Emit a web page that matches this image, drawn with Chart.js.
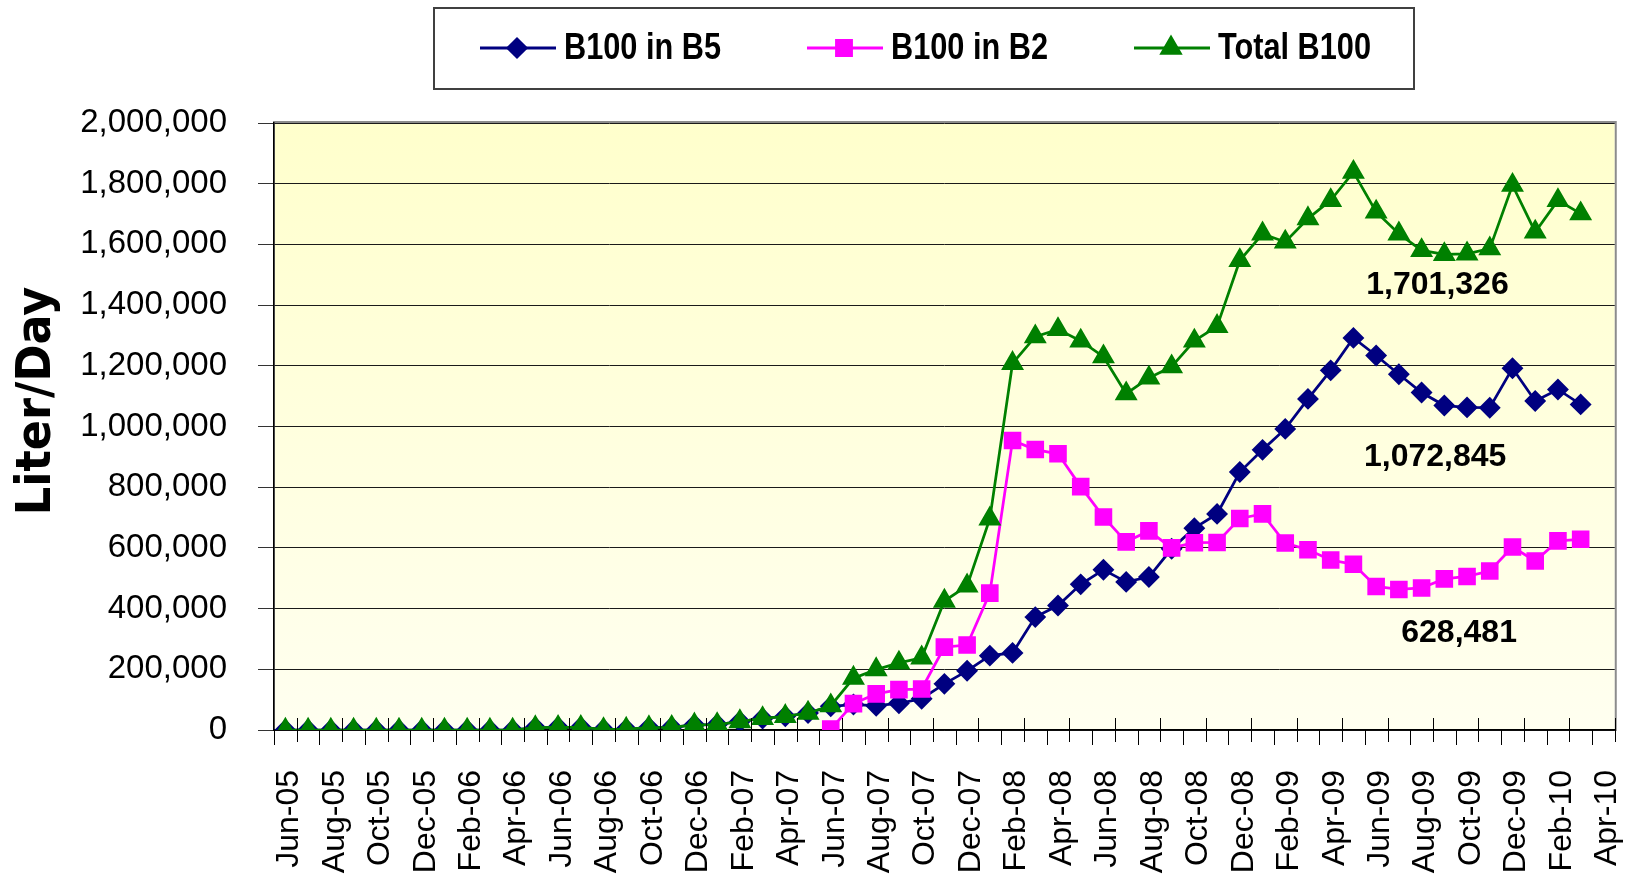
<!DOCTYPE html>
<html>
<head>
<meta charset="utf-8">
<title>B100 Liter/Day</title>
<script src="https://cdn.jsdelivr.net/npm/chart.js@4.4.1/dist/chart.umd.min.js"></script>
<style>
  html, body { margin: 0; padding: 0; background: #fff; }
  #wrap { position: relative; width: 1628px; height: 874px; }
</style>
</head>
<body>
<div id="wrap"><canvas id="b100Chart" width="1628" height="874"></canvas></div>
<script>
// Monthly categories, Jun-05 .. Apr-10
const months = [
  'Jun-05', 'Jul-05', 'Aug-05', 'Sep-05', 'Oct-05', 'Nov-05', 'Dec-05',
  'Jan-06', 'Feb-06', 'Mar-06', 'Apr-06', 'May-06', 'Jun-06', 'Jul-06', 'Aug-06', 'Sep-06', 'Oct-06', 'Nov-06', 'Dec-06',
  'Jan-07', 'Feb-07', 'Mar-07', 'Apr-07', 'May-07', 'Jun-07', 'Jul-07', 'Aug-07', 'Sep-07', 'Oct-07', 'Nov-07', 'Dec-07',
  'Jan-08', 'Feb-08', 'Mar-08', 'Apr-08', 'May-08', 'Jun-08', 'Jul-08', 'Aug-08', 'Sep-08', 'Oct-08', 'Nov-08', 'Dec-08',
  'Jan-09', 'Feb-09', 'Mar-09', 'Apr-09', 'May-09', 'Jun-09', 'Jul-09', 'Aug-09', 'Sep-09', 'Oct-09', 'Nov-09', 'Dec-09',
  'Jan-10', 'Feb-10', 'Mar-10', 'Apr-10'
];

// Liter/Day values
const b100InB5 = [
  0, 0, 0, 0, 0, 0, 0, 0, 0, 0, 0,
  8000, 9000, 9000, 2000, 3000, 8000, 9000, 17000, 18000, 28000, 38000, 45000, 56000,
  78000, 84000, 80000, 88000, 103000, 152000, 195000, 245000, 254000, 372000,
  410000, 480000, 528000, 488000, 504000, 597000, 665000, 712000, 850000, 923000,
  992000, 1091000, 1185000, 1292000, 1234000, 1172000, 1112000, 1069000, 1063000, 1062000,
  1192000, 1084000, 1122000, 1072845
];

const b100InB2 = [
  null, null, null, null, null, null, null, null, null, null, null, null,
  null, null, null, null, null, null, null, null, null, null, null, null,
  3000, 87000, 119000, 133000, 135000, 273000, 280000, 451000, 954000, 924000,
  910000, 802000, 702000, 620000, 656000, 600000, 617000, 618000, 697000, 712000,
  616000, 594000, 560000, 546000, 473000, 463000, 468000, 498000, 506000, 524000,
  603000, 557000, 623000, 628481
];

const totalB100 = [
  0, 0, 0, 0, 0, 0, 0, 0, 0, 0, 0,
  8000, 9000, 9000, 2000, 3000, 8000, 9000, 17000, 18000, 28000, 38000, 45000, 56000,
  80000, 171000, 199000, 221000, 238000, 425000, 475000, 696000, 1208000, 1296000,
  1320000, 1282000, 1230000, 1108000, 1160000, 1197000, 1282000, 1330000, 1547000, 1635000,
  1608000, 1685000, 1745000, 1838000, 1707000, 1635000, 1580000, 1567000, 1569000, 1586000,
  1795000, 1641000, 1745000, 1701326
];

const yTicks = { min: 0, max: 2000000, step: 200000 };

// where the three "latest value" callouts sit (category index, value)
const calloutSpots = [
  { series: 2, at: 50.7, value: 1465000 },
  { series: 0, at: 50.6, value: 899000 },
  { series: 1, at: 51.65, value: 319000 }
];

const fmt = v => v.toLocaleString('en-US');

// background, month tick marks, y title, legend and callouts
const decor = {
  id: 'decor',
  beforeDraw(chart) {
    const { ctx, chartArea: a } = chart;
    ctx.save();
    const g = ctx.createLinearGradient(0, a.top, 0, a.bottom);
    g.addColorStop(0, '#ffffcc');
    g.addColorStop(1, '#fffff0');
    ctx.fillStyle = g;
    ctx.fillRect(a.left, a.top, a.right - a.left, a.bottom - a.top);
    ctx.strokeStyle = '#8c8c8c';
    ctx.lineWidth = 2;
    ctx.strokeRect(a.left, a.top - 1, a.right - a.left + 1, a.bottom - a.top + 1);
    ctx.restore();
  },
  afterDraw(chart) {
    const { ctx, chartArea: a } = chart;
    const sets = chart.data.datasets;
    const xs = chart.scales.x, ys = chart.scales.y;

    // month boundary ticks: every other one crosses the axis
    ctx.save();
    ctx.strokeStyle = '#000';
    ctx.lineWidth = 1;
    for (let k = 0; k <= months.length; k++) {
      const px = Math.round(xs.getPixelForValue(k - 0.5)) + 0.5;
      ctx.beginPath();
      if (k % 2 === 1) {
        ctx.moveTo(px, a.bottom - 12);
        ctx.lineTo(px, a.bottom + 12);
      } else {
        ctx.moveTo(px, a.bottom);
        ctx.lineTo(px, a.bottom + 15);
      }
      ctx.stroke();
    }
    ctx.restore();

    // axis title
    ctx.save();
    ctx.translate(38, 401);
    ctx.rotate(-Math.PI / 2);
    ctx.scale(0.93, 1);
    ctx.fillStyle = '#000';
    ctx.font = 'bold 48px "DejaVu Sans"';
    ctx.textAlign = 'center';
    ctx.textBaseline = 'middle';
    ctx.fillText('Liter/Day', 0, 0);
    ctx.restore();

    // legend box
    ctx.save();
    ctx.fillStyle = '#fff';
    ctx.fillRect(434, 8, 980, 81);
    ctx.strokeStyle = '#404040';
    ctx.lineWidth = 2;
    ctx.strokeRect(434, 8, 980, 81);
    const starts = [480, 807, 1134];
    sets.forEach((ds, i) => {
      const x = starts[i], y = 48;
      ctx.strokeStyle = ds.borderColor;
      ctx.lineWidth = 3;
      ctx.beginPath();
      ctx.moveTo(x, y);
      ctx.lineTo(x + 76, y);
      ctx.stroke();
      ctx.fillStyle = ds.pointBackgroundColor;
      ctx.strokeStyle = ds.pointBorderColor;
      Chart.helpers.drawPoint(ctx, {
        pointStyle: ds.pointStyle, radius: ds.pointRadius, borderWidth: 1, rotation: 0
      }, x + 37, y);
      ctx.save();
      ctx.translate(x + 84, y + 1);
      ctx.scale(0.83, 1);
      ctx.fillStyle = '#000';
      ctx.font = 'bold 37px "Liberation Sans"';
      ctx.textBaseline = 'middle';
      ctx.fillText(ds.label, 0, 0);
      ctx.restore();
    });
    ctx.restore();

    // latest-value callouts
    ctx.save();
    ctx.fillStyle = '#000';
    ctx.font = 'bold 32px "Liberation Sans"';
    ctx.textAlign = 'center';
    ctx.textBaseline = 'middle';
    calloutSpots.forEach(c => {
      const d = sets[c.series].data;
      ctx.fillText(fmt(d[d.length - 1]), xs.getPixelForValue(c.at), ys.getPixelForValue(c.value));
    });
    ctx.restore();
  }
};

const ctx = document.getElementById('b100Chart').getContext('2d');

new Chart(ctx, {
  type: 'line',
  data: {
    labels: months,
    datasets: [
      {
        label: 'B100 in B5',
        data: b100InB5,
        borderColor: '#000080',
        backgroundColor: '#000080',
        pointBackgroundColor: '#000080',
        pointBorderColor: '#000080',
        pointStyle: 'rectRot',
        pointRadius: 9,
        borderWidth: 2.75,
        order: 3
      },
      {
        label: 'B100 in B2',
        data: b100InB2,
        borderColor: '#ff00ff',
        backgroundColor: '#ff00ff',
        pointBackgroundColor: '#ff00ff',
        pointBorderColor: '#ff00ff',
        pointStyle: 'rect',
        pointRadius: 10.5,
        borderWidth: 2.75,
        order: 2
      },
      {
        label: 'Total B100',
        data: totalB100,
        borderColor: '#008000',
        backgroundColor: '#008000',
        pointBackgroundColor: '#008000',
        pointBorderColor: '#008000',
        pointStyle: 'triangle',
        pointRadius: 10.5,
        borderWidth: 2.75,
        order: 1
      }
    ]
  },
  options: {
    responsive: false,
    animation: false,
    spanGaps: false,
    layout: { padding: { top: 123, right: 10, left: 0, bottom: 0 } },
    elements: { line: { tension: 0 }, point: { borderWidth: 1, hoverRadius: 10 } },
    plugins: {
      legend: { display: false },
      title: { display: false },
      tooltip: { enabled: false }
    },
    scales: {
      x: {
        offset: true,
        afterFit: scale => {
          scale.height = 144;
          scale.paddingLeft = 0;
          scale.paddingRight = 0;
        },
        grid: {
          offset: true,
          drawOnChartArea: false,
          drawTicks: false
        },
        border: { display: true, color: '#000', width: 1.5 },
        ticks: {
          autoSkip: false,
          maxRotation: 90,
          minRotation: 90,
          padding: 40,
          labelOffset: 4,
          color: '#000',
          font: { family: '"Liberation Sans"', size: 32 },
          callback: (v, i) => (i % 2 === 0 ? months[i] : '')
        }
      },
      y: {
        min: yTicks.min,
        max: yTicks.max,
        afterFit: scale => {
          scale.width = 274;
          scale.paddingTop = 0;
          scale.paddingBottom = 0;
        },
        grid: {
          color: '#1a1a1a',
          lineWidth: 1,
          tickLength: 16,
          tickColor: '#333'
        },
        border: { display: true, color: '#000', width: 1.5 },
        ticks: {
          stepSize: yTicks.step,
          padding: 31,
          color: '#000',
          font: { family: '"Liberation Sans"', size: 33 },
          callback: v => fmt(v)
        }
      }
    }
  },
  plugins: [decor]
});
</script>
</body>
</html>
